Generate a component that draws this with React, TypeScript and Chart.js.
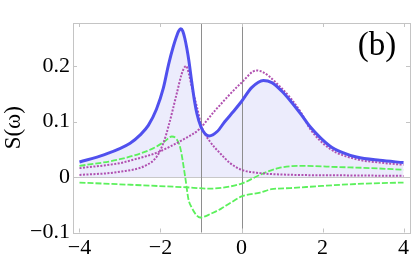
import React, { useEffect, useRef } from "react";
import { Chart, registerables } from "chart.js";

Chart.register(...registerables);

// ---- data ----
const blueX = [-4, -3.4, -2.75, -2.5, -2.3, -2.1, -1.93, -1.8, -1.68, -1.6, -1.55, -1.5, -1.45, -1.4, -1.35, -1.3, -1.23, -1.16, -1.1, -1.0, -0.9, -0.8, -0.6, -0.41, -0.2, 0, 0.25, 0.54, 0.75, 0.99, 1.2, 1.48, 1.69, 2.18, 2.5, 2.84, 3.41, 4];
const blueY = [0.027, 0.04, 0.061, 0.076, 0.093, 0.122, 0.16, 0.203, 0.236, 0.254, 0.263, 0.267, 0.263, 0.25, 0.232, 0.21, 0.172, 0.137, 0.114, 0.09, 0.078, 0.074, 0.082, 0.1, 0.118, 0.136, 0.161, 0.174, 0.17, 0.155, 0.138, 0.112, 0.091, 0.056, 0.044, 0.036, 0.03, 0.026];

const purpleNarrowX = [-4, -3, -2.33, -2.09, -1.93, -1.8, -1.6, -1.48, -1.42, -1.37, -1.32, -1.23, -1.1, -0.98, -0.78, -0.53, -0.28, 0, 0.46, 1.2, 2.5, 4];
const purpleNarrowY = [0.0036, 0.0095, 0.022, 0.037, 0.061, 0.092, 0.15, 0.185, 0.196, 0.2, 0.192, 0.163, 0.126, 0.09, 0.064, 0.043, 0.025, 0.013, 0.007, 0.004, 0.003, 0.002];

const purpleBroadX = [-4, -3, -2.73, -2.12, -1.76, -1.43, -1.06, -0.65, 0, 0.37, 0.99, 1.48, 1.69, 2.18, 2.84, 3.41, 4];
const purpleBroadY = [0.016, 0.025, 0.03, 0.043, 0.055, 0.068, 0.085, 0.12, 0.17, 0.192, 0.16, 0.115, 0.087, 0.051, 0.032, 0.026, 0.022];

const greenDispX = [-4, -3, -2.17, -1.9, -1.72, -1.6, -1.51, -1.39, -1.31, -1.23, -1.12, -1.02, -0.9, -0.78, -0.5, -0.28, 0, 0.46, 0.74, 1.2, 2, 3, 4];
const greenDispY = [0.02, 0.032, 0.052, 0.064, 0.073, 0.068, 0.052, 0.0, -0.04, -0.055, -0.068, -0.073, -0.071, -0.067, -0.057, -0.047, -0.035, -0.028, -0.022, -0.02, -0.016, -0.012, -0.01];

const greenFlatX = [-4, -2.74, -1.27, -0.78, -0.28, 0, 0.13, 0.46, 0.91, 1.48, 2.38, 3.2, 4];
const greenFlatY = [-0.01, -0.014, -0.019, -0.021, -0.017, -0.012, -0.008, 0.004, 0.016, 0.02, 0.018, 0.016, 0.013];

const xTickValues = [-4, -2, 0, 2, 4];
const xTickLabels = ["\u22124", "\u22122", "0", "2", "4"];
const yTickValues = [-0.1, 0, 0.1, 0.2];
const yTickLabels = ["\u22120.1", "0", "0.1", "0.2"];
const markerLinesX = [-1, 0];
const yTitle = "S(\u03C9)";
const panelLabel = "(b)";

const SERIF = "'Liberation Serif', 'Times New Roman', serif";

const toPts = (xs: number[], ys: number[]) => xs.map((x, i) => ({ x, y: ys[i] }));

export default function App() {
  const ref = useRef<HTMLCanvasElement | null>(null);

  useEffect(() => {
    if (!ref.current) return;
    const decor = {
      id: "decor",
      beforeDatasetsDraw(chart: any) {
        const { ctx, chartArea: a, scales } = chart;
        ctx.save();
        ctx.lineWidth = 1;
        ctx.strokeStyle = "#c8c8c8";
        const y0 = Math.round(scales.y.getPixelForValue(0)) + 0.5;
        ctx.beginPath();
        ctx.moveTo(a.left, y0);
        ctx.lineTo(a.right, y0);
        ctx.stroke();
        ctx.strokeStyle = "#8e8e8e";
        markerLinesX.forEach((v) => {
          const px = Math.round(scales.x.getPixelForValue(v)) + 0.5;
          ctx.beginPath();
          ctx.moveTo(px, a.top);
          ctx.lineTo(px, a.bottom);
          ctx.stroke();
        });
        ctx.restore();
      },
      afterDraw(chart: any) {
        const { ctx, chartArea: a, scales } = chart;
        ctx.save();
        ctx.lineWidth = 1;
        ctx.strokeStyle = "#c4c4c4";
        ctx.strokeRect(Math.round(a.left) + 0.5, Math.round(a.top) + 0.5, Math.round(a.right - a.left), Math.round(a.bottom - a.top));
        const tl = 4;
        ctx.beginPath();
        xTickValues.forEach((v) => {
          const px = Math.round(scales.x.getPixelForValue(v)) + 0.5;
          ctx.moveTo(px, a.bottom);
          ctx.lineTo(px, a.bottom - tl);
          ctx.moveTo(px, a.top);
          ctx.lineTo(px, a.top + tl);
        });
        yTickValues.forEach((v) => {
          const py = Math.round(scales.y.getPixelForValue(v)) + 0.5;
          ctx.moveTo(a.left, py);
          ctx.lineTo(a.left + tl, py);
          ctx.moveTo(a.right, py);
          ctx.lineTo(a.right - tl, py);
        });
        ctx.stroke();
        ctx.fillStyle = "#000";
        ctx.font = `33px ${SERIF}`;
        ctx.textAlign = "center";
        ctx.textBaseline = "middle";
        ctx.fillText(panelLabel, a.right - 33, a.top + 23);
        ctx.restore();
      },
    };

    const lineBase = { pointRadius: 0, cubicInterpolationMode: "monotone", fill: false };

    const chart = new Chart(ref.current, {
      type: "line",
      data: {
        datasets: [
          {
            ...lineBase,
            data: toPts(blueX, blueY),
            borderColor: "#5050ee",
            borderWidth: 3,
            backgroundColor: "rgba(236,236,252,1)",
            fill: "origin",
            order: 0,
          },
          {
            ...lineBase,
            data: toPts(purpleNarrowX, purpleNarrowY),
            borderColor: "#b050b0",
            borderWidth: 2,
            borderDash: [2, 1.5],
            order: 1,
          },
          {
            ...lineBase,
            data: toPts(purpleBroadX, purpleBroadY),
            borderColor: "#b050b0",
            borderWidth: 2,
            borderDash: [2, 1.5],
            order: 2,
          },
          {
            ...lineBase,
            data: toPts(greenDispX, greenDispY),
            borderColor: "#5cf05c",
            borderWidth: 1.8,
            borderDash: [6, 2],
            order: 3,
          },
          {
            ...lineBase,
            data: toPts(greenFlatX, greenFlatY),
            borderColor: "#5cf05c",
            borderWidth: 1.8,
            borderDash: [6, 2],
            order: 4,
          },
        ],
      },
      options: {
        animation: false,
        responsive: false,
        layout: { padding: { top: 23, right: 5, left: 0, bottom: 0 } },
        plugins: {
          legend: { display: false },
          tooltip: { enabled: false },
          filler: { drawTime: "beforeDatasetsDraw" },
        } as any,
        scales: {
          x: {
            type: "linear",
            min: -4.16,
            max: 4.16,
            grid: { display: false, drawTicks: false },
            border: { display: false },
            afterBuildTicks: (s: any) => {
              s.ticks = xTickValues.map((v) => ({ value: v }));
            },
            afterFit: (s: any) => {
              s.height = 23.5;
            },
            ticks: {
              padding: 3,
              autoSkip: false,
              maxRotation: 0,
              color: "#000",
              font: { family: SERIF, size: 22 },
              callback: (v: any) => {
                const i = xTickValues.indexOf(Number(v));
                return i >= 0 ? xTickLabels[i] : "";
              },
            },
          },
          y: {
            type: "linear",
            min: -0.1,
            max: 0.2775,
            grid: { display: false, drawTicks: false },
            border: { display: false },
            afterBuildTicks: (s: any) => {
              s.ticks = yTickValues.map((v) => ({ value: v }));
            },
            afterFit: (s: any) => {
              s.width = 73;
            },
            title: {
              display: true,
              text: yTitle,
              color: "#000",
              font: { family: SERIF, size: 23 },
              padding: { top: 0, bottom: 0 },
            },
            ticks: {
              padding: 3,
              autoSkip: false,
              color: "#000",
              font: { family: SERIF, size: 22 },
              callback: (v: any) => {
                const i = yTickValues.findIndex((t) => Math.abs(t - Number(v)) < 1e-9);
                return i >= 0 ? yTickLabels[i] : "";
              },
            },
          },
        },
      },
      plugins: [decor],
    } as any);
    return () => chart.destroy();
  }, []);

  return (
    <div style={{ position: "fixed", left: 0, top: 0, width: 415, height: 256, background: "#fff" }}>
      <canvas ref={ref} width={415} height={256} style={{ display: "block" }} />
    </div>
  );
}
